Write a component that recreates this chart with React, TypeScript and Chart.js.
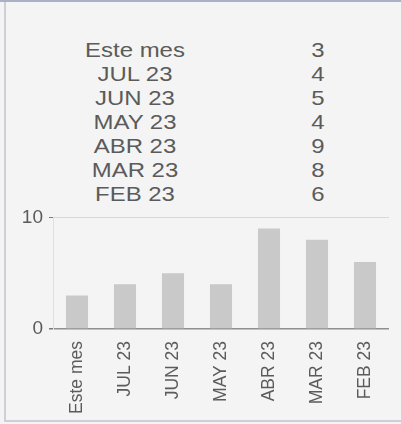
import React, { useEffect, useRef } from "react";
import { Chart, registerables } from "chart.js";

Chart.register(...registerables);

const categories = ["Este mes", "JUL 23", "JUN 23", "MAY 23", "ABR 23", "MAR 23", "FEB 23"];
const values = [3, 4, 5, 4, 9, 8, 6];
const yTicks = [0, 10];

const FONT = "'Liberation Sans', Arial, sans-serif";
const TEXT = "#5b5b5b";

export default function App() {
  const canvasRef = useRef<HTMLCanvasElement | null>(null);

  useEffect(() => {
    document.body.style.margin = "0";
    const canvas = canvasRef.current;
    if (!canvas) return;
    const chart = new Chart(canvas, {
      type: "bar",
      data: {
        labels: categories,
        datasets: [
          {
            data: values,
            backgroundColor: "#c9c9c9",
            borderWidth: 0,
            barPercentage: 0.46,
            categoryPercentage: 1,
          },
        ],
      },
      options: {
        animation: false,
        responsive: true,
        maintainAspectRatio: false,
        layout: { padding: { left: 0, right: 12, top: 13, bottom: 0 } },
        plugins: { legend: { display: false }, tooltip: { enabled: false } },
        scales: {
          x: {
            grid: { display: false, drawTicks: false },
            border: { display: false },
            ticks: {
              minRotation: 90,
              maxRotation: 90,
              autoSkip: false,
              padding: 12,
              color: TEXT,
              font: { family: FONT, size: 17.5 },
            },
            afterFit: (s: any) => {
              s.height = 95;
            },
          },
          y: {
            min: yTicks[0],
            max: yTicks[yTicks.length - 1],
            afterBuildTicks: (s: any) => {
              s.ticks = yTicks.map((v) => ({ value: v }));
            },
            grid: {
              color: (ctx: any) => (ctx.tick && ctx.tick.value === 0 ? "#8f8f8f" : "#d8d8d8"),
              lineWidth: (ctx: any) => (ctx.tick && ctx.tick.value === 0 ? 1.5 : 1),
              tickColor: "#7a7a7a",
              tickLength: 4,
            },
            border: { display: true, color: "#e0e0e0" },
            ticks: {
              padding: 6,
              color: TEXT,
              font: { family: FONT, size: 19 },
            },
            afterFit: (s: any) => {
              s.width = 53;
            },
          },
        },
      },
    });
    return () => chart.destroy();
  }, []);

  const textStyle = {
    position: "absolute" as const,
    lineHeight: "24px",
    fontSize: 21,
    fontFamily: FONT,
    color: TEXT,
    textAlign: "center" as const,
    whiteSpace: "nowrap" as const,
    transform: "scaleX(1.14)",
    transformOrigin: "50% 50%",
  };

  return (
    <div
      style={{
        position: "absolute",
        left: 0,
        top: 0,
        width: 401,
        height: 424,
        background: "#f4f4f4",
        overflow: "hidden",
      }}
    >
      <div style={{ position: "absolute", left: 0, top: 0, width: 401, height: 2, background: "#aab0c8" }} />
      <div style={{ position: "absolute", left: 4, top: 2, width: 2, height: 419, background: "#cfcfd8" }} />
      <div style={{ position: "absolute", left: 4, top: 420, width: 397, height: 2, background: "#cfcfd8" }} />
      {categories.map((c, i) => (
        <React.Fragment key={c}>
          <div style={{ ...textStyle, left: 75, width: 120, top: 37.5 + i * 24 }}>{c}</div>
          <div style={{ ...textStyle, left: 298, width: 40, top: 37.5 + i * 24 }}>{values[i]}</div>
        </React.Fragment>
      ))}
      <div style={{ position: "absolute", left: 0, top: 200, width: 401, height: 224 }}>
        <canvas ref={canvasRef} />
      </div>
    </div>
  );
}
